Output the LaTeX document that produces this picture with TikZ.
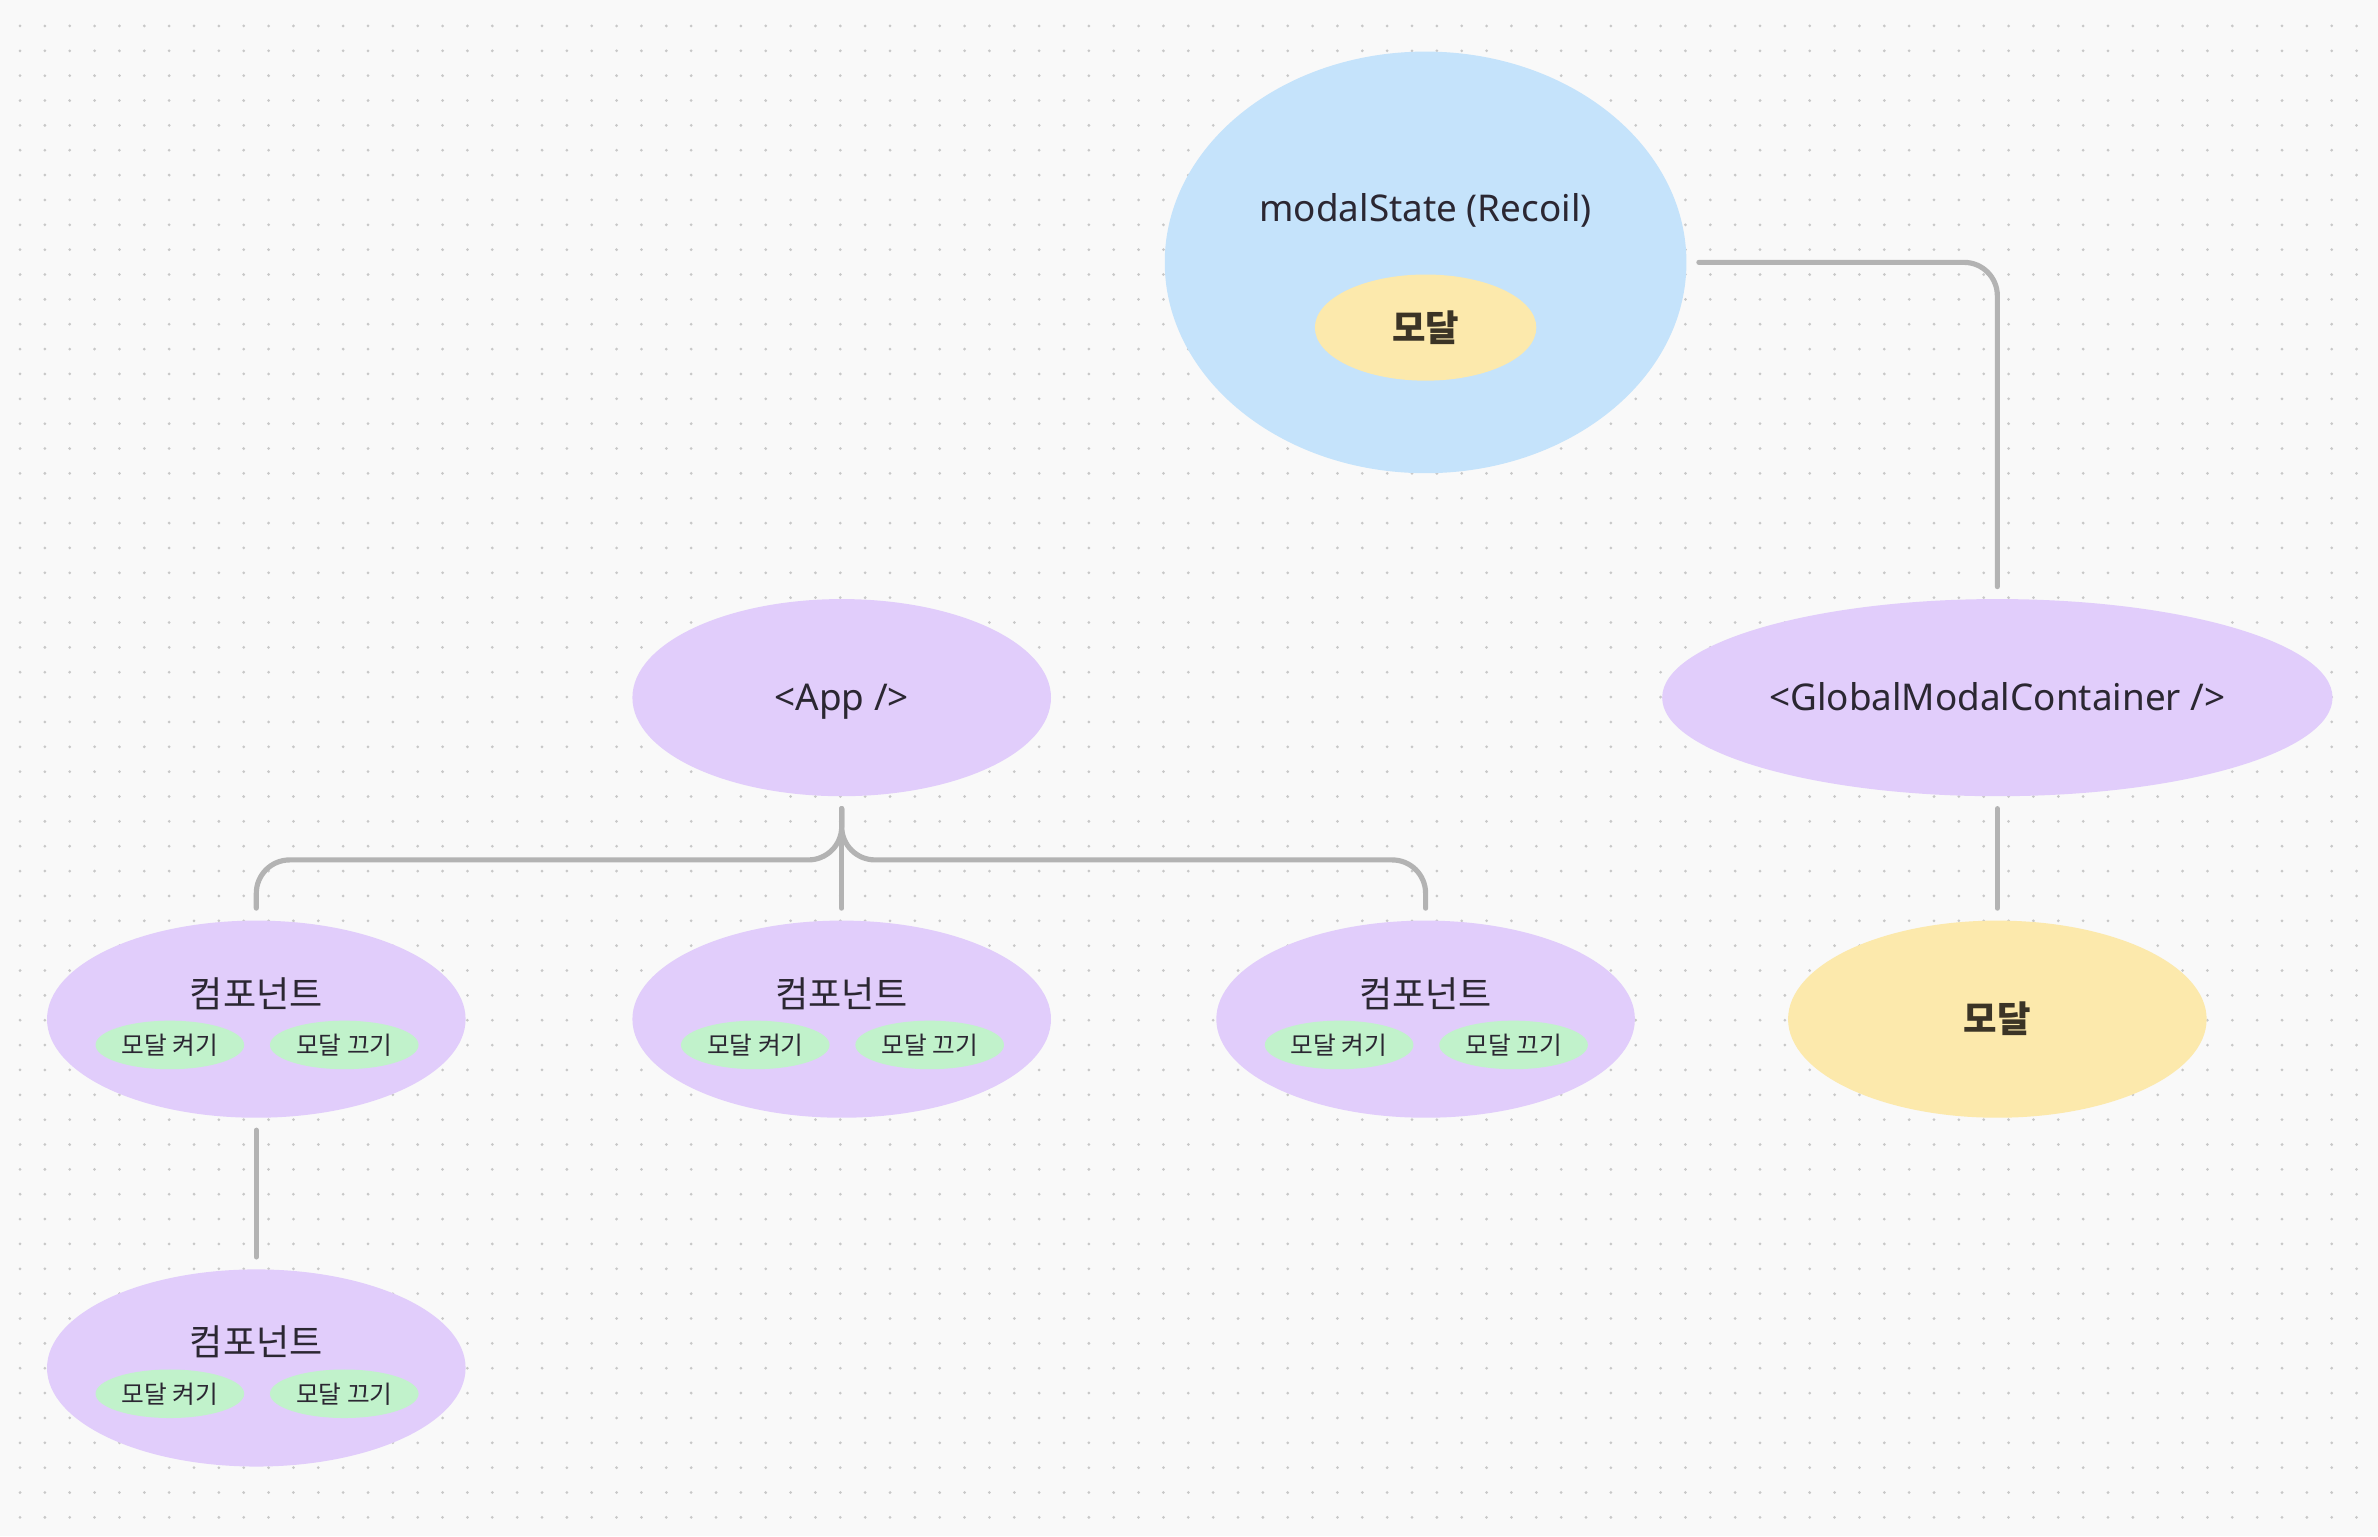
\documentclass[tikz,border=0pt]{standalone}
\usepackage{fontspec}
\setmainfont{Noto Sans}
\newfontfamily\kr{Noto Sans CJK KR}
\usetikzlibrary{shapes.geometric, positioning, calc}
\definecolor{bgcol}{HTML}{F9F9F9}
\definecolor{dotcol}{HTML}{C8C8C8}
\definecolor{sky}{HTML}{C5E3FB}
\definecolor{lilac}{HTML}{E1CDFB}
\definecolor{sand}{HTML}{FCE9AC}
\definecolor{mint}{HTML}{C1F2CB}
\definecolor{wire}{HTML}{B3B3B3}
\definecolor{ink}{HTML}{2B2732}
\definecolor{brownink}{HTML}{3B3426}

\begin{document}
\begin{tikzpicture}[
    x=1pt, y=-1pt,
    every node/.style={inner sep=0pt, text=ink},
    blob/.style={ellipse, minimum width=276pt, minimum height=130pt, fill=lilac},
    pill/.style={ellipse, minimum width=98pt, minimum height=32pt, fill=mint, font=\kr\fontsize{16.3}{19}\selectfont},
    title/.style={font=\kr\fontsize{23.8}{28}\selectfont},
    code/.style={font=\fontsize{24.3}{28}\selectfont, text height=22pt, text depth=4.8pt},
    modal/.style={ellipse, fill=sand, text=brownink, font=\kr\bfseries\fontsize{24}{28}\selectfont},
    link/.style={draw=wire, line width=3.4pt, line cap=round, rounded corners=22pt, shorten <=8pt, shorten >=8pt},
    dotrow/.style={draw=dotcol, line width=2pt, line cap=round, dash pattern=on 0pt off 16.39pt}
]
\useasboundingbox (0,0) rectangle (1568,1012.8);
\fill[bgcol] (0,0) rectangle (1568,1012.8);
\foreach \r in {0,...,60}
    \draw[dotrow] (13.2,{17.1+16.39*\r}) -- (1568,{17.1+16.39*\r});

\node[ellipse, fill=sky, minimum width=344pt, minimum height=278pt] (state) at (940,173) {};
\node[code] (statetext) at (940,137.5) {modalState (Recoil)};
\node[modal, minimum width=146pt, minimum height=70pt] (statemodal) at (940,216) {모달};

\node[blob, code] (app) at (555,460) {<App />};
\node[blob, code, minimum width=442pt] (gmc) at (1317,460) {<GlobalModalContainer />};
\node[modal, minimum width=276pt, minimum height=130pt] (modal) at (1317,672) {모달};

\node[blob] (comp1) at (169,672) {};
\node[title] (comp1t) at ([yshift=17pt]comp1.center) {컴포넌트};
\node[pill] (comp1on) at ([xshift=-57pt,yshift=-17pt]comp1.center) {모달 켜기};
\node[pill] (comp1off) at ([xshift=58pt,yshift=-17pt]comp1.center) {모달 끄기};

\node[blob] (comp2) at (555,672) {};
\node[title] (comp2t) at ([yshift=17pt]comp2.center) {컴포넌트};
\node[pill] (comp2on) at ([xshift=-57pt,yshift=-17pt]comp2.center) {모달 켜기};
\node[pill] (comp2off) at ([xshift=58pt,yshift=-17pt]comp2.center) {모달 끄기};

\node[blob] (comp3) at (940,672) {};
\node[title] (comp3t) at ([yshift=17pt]comp3.center) {컴포넌트};
\node[pill] (comp3on) at ([xshift=-57pt,yshift=-17pt]comp3.center) {모달 켜기};
\node[pill] (comp3off) at ([xshift=58pt,yshift=-17pt]comp3.center) {모달 끄기};

\node[blob] (comp4) at (169,902) {};
\node[title] (comp4t) at ([yshift=17pt]comp4.center) {컴포넌트};
\node[pill] (comp4on) at ([xshift=-57pt,yshift=-17pt]comp4.center) {모달 켜기};
\node[pill] (comp4off) at ([xshift=58pt,yshift=-17pt]comp4.center) {모달 끄기};

\coordinate (fork) at (555,567);

\draw[link] (state.east) -| (gmc.north);
\draw[link] (gmc.south) -- (modal.north);
\draw[link] (app.south) -- (comp2.north);
\draw[link] (app.south) -- (fork) -| (comp1.north);
\draw[link] (app.south) -- (fork) -| (comp3.north);
\draw[link] (comp1.south) -- (comp4.north);

\end{tikzpicture}
\end{document}
